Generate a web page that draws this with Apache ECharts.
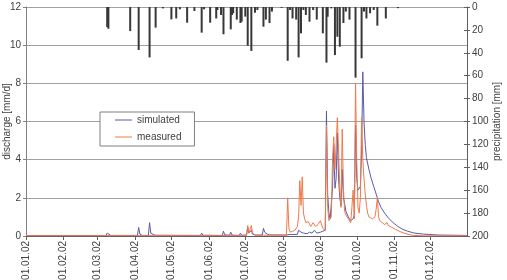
<!DOCTYPE html>
<html>
<head>
<meta charset="utf-8">
<script src="https://cdn.jsdelivr.net/npm/echarts@6/dist/echarts.min.js"></script>
<style>html,body{margin:0;padding:0;background:#fff;}#c{width:507px;height:280px;}</style>
</head>
<body>
<div id="c"></div>
<script>
// Day-of-year categories for 2002 (labels dd.mm.yy)
const year = 2002;
const categories = [];
for (let i = 0; i < 365; i++) {
  const d = new Date(Date.UTC(year, 0, 1 + i));
  const dd = String(d.getUTCDate()).padStart(2, '0');
  const mm = String(d.getUTCMonth() + 1).padStart(2, '0');
  categories.push(dd + '.' + mm + '.' + String(year).slice(2));
}

// Simulated discharge [mm/d]: [dayIndex, value]
const simulated = [
  [0,0.02],[66,0.02],[67,0.15],[68,0.12],[70,0.03],[92,0.03],[93,0.45],[94,0.1],[96,0.03],
  [101,0.03],[102,0.7],[103,0.15],[106,0.05],[107,0.15],[108,0.04],[144,0.03],[145,0.15],[146,0.04],
  [162,0.03],[163,0.25],[164,0.06],[168,0.04],[169,0.2],[170,0.05],[176,0.03],[177,0.15],[178,0.04],
  [182,0.05],[183,0.45],[184,0.15],[185,0.1],[186,0.3],[187,0.1],[189,0.05],[195,0.05],[196,0.4],
  [197,0.2],[198,0.3],[199,0.1],[201,0.06],[215,0.05],[216,0.15],[218,0.08],[224,0.08],[225,0.3],
  [226,0.4],[227,0.2],[228,0.3],[229,0.15],[232,0.12],[234,0.2],[236,0.15],[238,0.3],[240,0.15],
  [243,0.2],[245,0.25],[247,0.3],[248,6.55],[249,2.2],[250,1.2],[251,0.9],[252,0.8],[253,2.5],
  [254,4.8],[255,2.5],[256,3.0],[257,5.4],[258,3.0],[259,2.0],[260,1.6],[261,3.5],[262,2.0],
  [263,1.7],[264,1.3],[266,1.0],[268,0.8],[270,0.9],[271,1.1],[272,5.8],[273,3.0],[274,2.4],
  [275,2.3],[276,2.6],[277,4.5],[278,8.6],[279,6.0],[280,4.8],[281,4.1],[283,3.5],[285,3.0],
  [287,2.6],[289,2.2],[291,1.8],[293,1.5],[296,1.2],[299,0.95],[303,0.7],[307,0.5],[311,0.35],
  [315,0.25],[320,0.16],[328,0.1],[340,0.05],[364,0.03]
];

// Measured discharge [mm/d]: [dayIndex, value]
const measured = [
  [0,0.02],[182,0.02],[183,0.55],[184,0.15],[185,0.1],[186,0.55],[187,0.15],[189,0.04],[215,0.04],
  [216,2.0],[217,0.4],[218,0.2],[220,0.25],[222,0.3],[224,0.5],[225,1.0],[226,2.9],[227,1.6],
  [228,3.1],[229,1.2],[230,0.9],[231,0.7],[233,0.75],[235,0.5],[237,0.7],[239,0.5],[241,0.6],
  [243,0.8],[245,0.4],[247,0.3],[248,5.8],[249,1.5],[250,0.8],[251,0.7],[252,1.0],[253,4.0],
  [254,5.2],[255,3.5],[256,4.8],[257,6.2],[258,4.5],[259,2.5],[260,1.5],[261,5.6],[262,2.5],
  [263,1.3],[264,1.1],[265,1.2],[266,0.9],[267,0.8],[268,0.7],[269,1.5],[270,2.4],[271,0.9],
  [272,8.0],[273,4.0],[274,1.5],[275,1.2],[276,2.0],[277,6.2],[278,4.0],[279,3.0],[280,2.2],
  [281,1.6],[282,1.2],[283,1.0],[284,0.95],[286,0.9],[288,1.0],[289,1.4],[290,2.0],[291,1.0],
  [292,0.8],[294,0.7],[296,0.6],[298,0.7],[299,0.55],[302,0.45],[305,0.35],[308,0.25],[312,0.15],
  [316,0.08],[320,0.03],[330,0.01],[364,0.01]
];

// Daily precipitation [mm]: [dayIndex, value]
const precipitation = [
  [67,17.5],[68,19],[86,21],[93,37.5],[102,44],[107,18],[113,1.2],[120,10.8],[124,10],[127,2],
  [133,13.7],[139,3.5],[145,22.4],[147,2],[152,13.7],[157,10],[158,2.6],[161,7],[163,23.8],
  [169,19.5],[170,7],[171,5.5],[174,11],[177,14],[178,12.8],[181,8.4],[183,33.8],[186,38.4],
  [189,5],[191,2.6],[196,17.2],[198,11],[201,14],[203,4],[211,0.8],[216,47],[218,2.6],[220,10],
  [223,11],[225,44],[227,23],[229,2.6],[231,7],[234,12.8],[237,2.6],[240,11],[245,23],[248,48.6],
  [249,8.5],[252,1.2],[255,42],[257,26],[259,34.7],[262,14],[264,4],[267,11],[272,61.7],
  [277,44.8],[279,4],[281,10],[284,5.5],[287,2.6],[290,16.3],[297,10],[307,1]
];

// Axis ticks
const dischargeTicks = {min: 0, max: 12, interval: 2};
const precipTicks = {min: 0, max: 200, interval: 20};

const isMonthStart = function (idx, val) { return val.slice(0, 3) === '01.'; };
const font = 'Liberation Sans, Arial, sans-serif';
const textCol = '#404040';
const simColor = '#5a5aa8';
const measColor = '#f07a4a';

const chart = echarts.init(document.getElementById('c'), null, {renderer: 'canvas'});
chart.setOption({
  animation: false,
  grid: {left: 26, right: 40, top: 7, bottom: 44, containLabel: false, outerBoundsMode: 'none'},
  legend: {
    data: [
      {name: 'simulated', icon: 'rect', itemStyle: {color: simColor}},
      {name: 'measured', icon: 'rect', itemStyle: {color: measColor}}
    ],
    orient: 'vertical',
    left: 100, top: 112,
    backgroundColor: '#fff',
    borderColor: '#808080', borderWidth: 1, borderRadius: 0,
    padding: [2, 13, 3, 15],
    itemWidth: 17, itemHeight: 1, itemGap: 5,
    textStyle: {fontSize: 10, color: textCol, fontFamily: font, lineHeight: 12}
  },
  xAxis: {
    type: 'category',
    data: categories,
    boundaryGap: false,
    axisLine: {lineStyle: {color: '#606060', width: 1}},
    axisTick: {show: true, interval: isMonthStart, length: 4, lineStyle: {color: '#606060'}},
    axisLabel: {interval: isMonthStart, rotate: 90, fontSize: 10, color: textCol, fontFamily: font, margin: 5},
    splitLine: {show: false}
  },
  yAxis: [
    {
      type: 'value', min: dischargeTicks.min, max: dischargeTicks.max, interval: dischargeTicks.interval,
      name: 'discharge [mm/d]', nameLocation: 'middle', nameGap: 14, nameRotate: 90, nameMoveOverlap: false,
      nameTextStyle: {fontSize: 10, color: textCol, fontFamily: font},
      axisLine: {show: true, lineStyle: {color: '#808080'}},
      axisTick: {show: true, length: 3, lineStyle: {color: '#808080'}},
      axisLabel: {fontSize: 10, color: textCol, fontFamily: font, margin: 5},
      splitLine: {show: true, lineStyle: {color: '#a0a0a0', width: 1}}
    },
    {
      type: 'value', position: 'right', inverse: true,
      min: precipTicks.min, max: precipTicks.max, interval: precipTicks.interval,
      name: 'precipitation [mm]', nameLocation: 'middle', nameGap: 25, nameRotate: 90, nameMoveOverlap: false,
      nameTextStyle: {fontSize: 10, color: textCol, fontFamily: font},
      axisLine: {show: true, lineStyle: {color: '#606060'}},
      axisTick: {show: true, length: 3, lineStyle: {color: '#606060'}},
      axisLabel: {fontSize: 10, color: textCol, fontFamily: font, margin: 5},
      splitLine: {show: false}
    },
    {
      type: 'value', position: 'right', inverse: true,
      min: precipTicks.min, max: precipTicks.max, interval: precipTicks.interval,
      axisLine: {show: false},
      axisTick: {show: true, inside: true, length: 3, lineStyle: {color: '#606060'}},
      axisLabel: {show: false},
      splitLine: {show: false}
    }
  ],
  series: [
    {
      name: 'precipitation', type: 'bar', yAxisIndex: 1, data: precipitation,
      barWidth: 2, itemStyle: {color: '#383838'}, silent: true
    },
    {
      name: 'simulated', type: 'line', yAxisIndex: 0, data: simulated,
      symbol: 'none', lineStyle: {color: simColor, width: 1}, itemStyle: {color: simColor}
    },
    {
      name: 'measured', type: 'line', yAxisIndex: 0, data: measured,
      symbol: 'none', lineStyle: {color: measColor, width: 1}, itemStyle: {color: measColor}
    }
  ]
});
</script>
</body>
</html>
